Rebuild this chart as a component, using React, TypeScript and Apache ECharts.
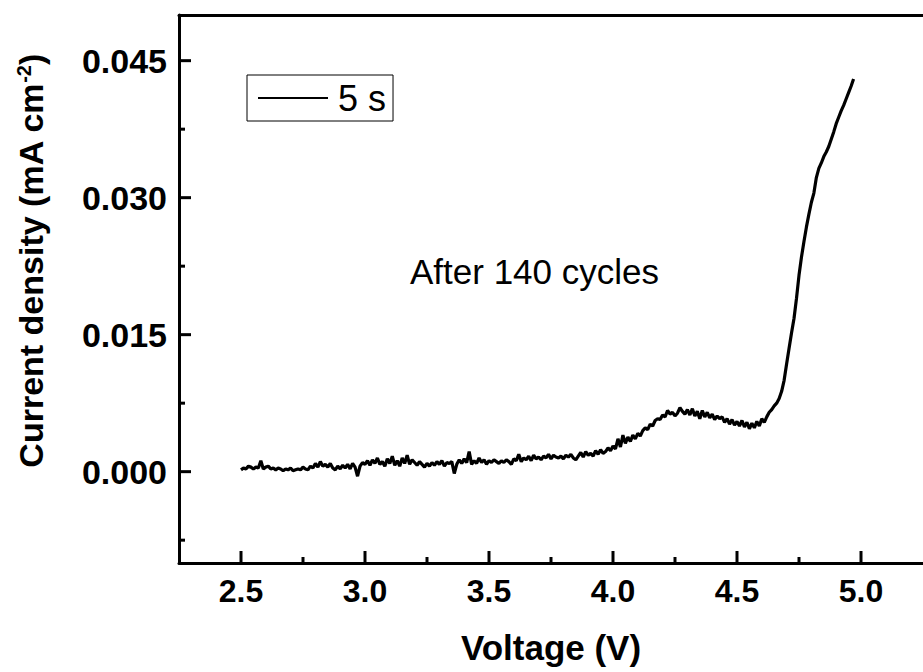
import React, { useEffect, useRef } from "react";
import * as echarts from "echarts";

// Voltage (V)
const voltage = [
  2.5, 2.51, 2.52, 2.53, 2.54, 2.55, 2.56, 2.57, 2.58, 2.59,
  2.6, 2.61, 2.62, 2.63, 2.64, 2.65, 2.66, 2.67, 2.68, 2.69,
  2.7, 2.71, 2.72, 2.73, 2.74, 2.75, 2.76, 2.77, 2.78, 2.79,
  2.8, 2.81, 2.82, 2.83, 2.84, 2.85, 2.86, 2.87, 2.88, 2.89,
  2.9, 2.91, 2.92, 2.93, 2.94, 2.95, 2.96, 2.97, 2.98, 2.99,
  3.0, 3.01, 3.02, 3.03, 3.04, 3.05, 3.06, 3.07, 3.08, 3.09,
  3.1, 3.11, 3.12, 3.13, 3.14, 3.15, 3.16, 3.17, 3.18, 3.19,
  3.2, 3.21, 3.22, 3.23, 3.24, 3.25, 3.26, 3.27, 3.28, 3.29,
  3.3, 3.31, 3.32, 3.33, 3.34, 3.35, 3.36, 3.37, 3.38, 3.39,
  3.4, 3.41, 3.42, 3.43, 3.44, 3.45, 3.46, 3.47, 3.48, 3.49,
  3.5, 3.51, 3.52, 3.53, 3.54, 3.55, 3.56, 3.57, 3.58, 3.59,
  3.6, 3.61, 3.62, 3.63, 3.64, 3.65, 3.66, 3.67, 3.68, 3.69,
  3.7, 3.71, 3.72, 3.73, 3.74, 3.75, 3.76, 3.77, 3.78, 3.79,
  3.8, 3.81, 3.82, 3.83, 3.84, 3.85, 3.86, 3.87, 3.88, 3.89,
  3.9, 3.91, 3.92, 3.93, 3.94, 3.95, 3.96, 3.97, 3.98, 3.99,
  4.0, 4.01, 4.02, 4.03, 4.04, 4.05, 4.06, 4.07, 4.08, 4.09,
  4.1, 4.11, 4.12, 4.13, 4.14, 4.15, 4.16, 4.17, 4.18, 4.19,
  4.2, 4.21, 4.22, 4.23, 4.24, 4.25, 4.26, 4.27, 4.28, 4.29,
  4.3, 4.31, 4.32, 4.33, 4.34, 4.35, 4.36, 4.37, 4.38, 4.39,
  4.4, 4.41, 4.42, 4.43, 4.44, 4.45, 4.46, 4.47, 4.48, 4.49,
  4.5, 4.51, 4.52, 4.53, 4.54, 4.55, 4.56, 4.57, 4.58, 4.59,
  4.6, 4.61, 4.62, 4.63, 4.64, 4.65, 4.66, 4.67, 4.68, 4.69,
  4.7, 4.71, 4.72, 4.73, 4.74, 4.75, 4.76, 4.77, 4.78, 4.79,
  4.8, 4.81, 4.82, 4.83, 4.84, 4.85, 4.86, 4.87, 4.88, 4.89,
  4.9, 4.91, 4.92, 4.93, 4.94, 4.95, 4.96, 4.97,
];

// Current density (mA cm-2)
const current = [
  0.0002, 0.0004, 0.0003, 0.0006, 0.0005, 0.0003, 0.0005, 0.0004, 0.0012, 0.0003,
  0.0005, 0.0006, 0.0003, 0.0004, 0.0002, 0.0004, 0.0003, 0.0001, 0.0003, 0.0002,
  0.0004, 0.0001, 0.0002, 0.0003, 0.0002, 0.0005, 0.0003, 0.0002, 0.0006, 0.0004,
  0.0009, 0.0005, 0.0011, 0.0006, 0.0008, 0.0005, 0.0009, 0.0004, 0.0002, 0.0006,
  0.0003, 0.0007, 0.0004, 0.0008, 0.0003, 0.0009, 0.0005, -0.0005, 0.0006, 0.001,
  0.0008, 0.0012, 0.0007, 0.0013, 0.0009, 0.0015, 0.0008, 0.0011, 0.0006, 0.0014,
  0.0009, 0.0017, 0.0007, 0.0012, 0.0006, 0.0015, 0.0009, 0.0018, 0.0008, 0.0013,
  0.001, 0.0007, 0.0011, 0.0008, 0.0005, 0.0009, 0.0006, 0.001, 0.0007, 0.0011,
  0.0008, 0.0012, 0.0006, 0.001, 0.0009, 0.0011, -0.0002, 0.0008, 0.0013, 0.0009,
  0.0014, 0.001, 0.0022, 0.0008, 0.0012, 0.0009, 0.0015, 0.001, 0.0013, 0.0008,
  0.0012, 0.001, 0.0013, 0.0011, 0.0009, 0.0012, 0.001, 0.0013, 0.0011, 0.0008,
  0.0014, 0.0012, 0.0019, 0.0011, 0.0015, 0.0013, 0.0017, 0.0012, 0.0018, 0.0014,
  0.0016, 0.0013, 0.0017, 0.0015, 0.0019, 0.0014, 0.0018, 0.0016, 0.0015, 0.0017,
  0.0014, 0.0018, 0.0016, 0.0019, 0.0015, 0.0013, 0.0017, 0.0021, 0.0016, 0.0022,
  0.0018, 0.002, 0.0017, 0.0023, 0.0019, 0.0024, 0.002, 0.0022, 0.0026, 0.0023,
  0.0028, 0.0025, 0.0036, 0.0027, 0.004, 0.0031, 0.0038, 0.0033, 0.004, 0.0036,
  0.0042, 0.0039, 0.0045, 0.0048, 0.0046, 0.0052, 0.005, 0.0056, 0.0058, 0.0057,
  0.0062, 0.006, 0.0067, 0.0063, 0.0065, 0.0061, 0.0064, 0.007, 0.0066, 0.0063,
  0.0068, 0.0062, 0.0069, 0.0061, 0.0066, 0.0058, 0.0067, 0.006, 0.0065, 0.0059,
  0.0063, 0.0057, 0.0061, 0.0058, 0.006, 0.0054, 0.0058, 0.0052, 0.0057, 0.0051,
  0.0055, 0.005, 0.0056, 0.0049, 0.0054, 0.0047, 0.0053, 0.0048, 0.0055, 0.005,
  0.0058, 0.0054, 0.006, 0.0065, 0.0068, 0.0072, 0.0075, 0.008, 0.0088, 0.01,
  0.0118, 0.0135, 0.0152, 0.0168, 0.019, 0.0215, 0.0235, 0.0252, 0.0268, 0.0282,
  0.0295, 0.0305, 0.0322, 0.0332, 0.0338, 0.0345, 0.035, 0.0356, 0.0364, 0.0372,
  0.0381, 0.0388, 0.0395, 0.0401, 0.0408, 0.0415, 0.0422, 0.043,
];

const seriesName = "5 s";
const annotation = "After 140 cycles";
const xTitle = "Voltage (V)";
const yTitle = "Current density (mA cm{sup|-2})";
const xMajorTicks = [2.5, 3.0, 3.5, 4.0, 4.5, 5.0];
const xMinorTicks = [2.75, 3.25, 3.75, 4.25, 4.75];
const yMajorTicks = [0, 0.015, 0.03, 0.045];
const yMinorTicks = [-0.0075, 0.0075, 0.0225, 0.0375];

const FONT = "'Liberation Sans', Arial, sans-serif";
const X_MIN = 2.25;
const X_MAX = 5.25;
const Y_MIN = -0.01;
const Y_MAX = 0.05;

export default function App() {
  const ref = useRef<HTMLDivElement>(null);

  useEffect(() => {
    if (!ref.current) return;
    const chart = echarts.init(ref.current, undefined, { renderer: "svg" });
    const axisLine = { show: true, onZero: false, lineStyle: { color: "#000", width: 3 } };
    const noLabel = { show: false };
    const noSplit = { show: false };
    const noTick = { show: false };

    // Inward axis ticks drawn through the axes' own scales (api.coord)
    const tickSeries = (dim: "x" | "y", values: number[], length: number) => ({
      type: "custom",
      xAxisIndex: 0,
      yAxisIndex: 0,
      silent: true,
      clip: false,
      z: 10,
      data: values.map((v) => (dim === "x" ? [v, Y_MIN] : [X_MIN, v])),
      renderItem: (_params: any, api: any) => {
        const p = api.coord([api.value(0), api.value(1)]);
        const shape =
          dim === "x"
            ? { x1: p[0], y1: p[1], x2: p[0], y2: p[1] - length }
            : { x1: p[0], y1: p[1], x2: p[0] + length, y2: p[1] };
        return { type: "line", shape, style: { stroke: "#000", lineWidth: 3 } };
      },
    });

    chart.setOption({
      animation: false,
      backgroundColor: "#fff",
      grid: { left: 179, top: 15, right: -9, bottom: 109, containLabel: false },
      legend: {
        data: [seriesName],
        left: 247,
        top: 75,
        icon: "rect",
        itemWidth: 70,
        itemHeight: 2,
        selectedMode: false,
        borderColor: "#000",
        borderWidth: 1,
        borderRadius: 0,
        padding: [5, 7, 5, 11],
        textStyle: { fontSize: 36, color: "#000", fontFamily: FONT, padding: [0, 0, 0, 5] },
      },
      xAxis: [
        {
          type: "value",
          min: X_MIN,
          max: X_MAX,
          position: "bottom",
          axisLine,
          axisTick: noTick,
          axisLabel: {
            show: true,
            customValues: xMajorTicks,
            formatter: (v: number) => v.toFixed(1),
            margin: 12,
            fontSize: 32,
            fontWeight: "bold",
            fontFamily: FONT,
            color: "#000",
          },
          splitLine: noSplit,
          name: xTitle,
          nameLocation: "middle",
          nameGap: 67,
          nameTextStyle: { fontSize: 35, fontWeight: "bold", fontFamily: FONT, color: "#000" },
        },
        {
          type: "value",
          min: X_MIN,
          max: X_MAX,
          position: "top",
          axisLine,
          axisTick: noTick,
          axisLabel: noLabel,
          splitLine: noSplit,
        },
      ],
      yAxis: [
        {
          type: "value",
          min: Y_MIN,
          max: Y_MAX,
          position: "left",
          axisLine,
          axisTick: noTick,
          axisLabel: {
            show: true,
            customValues: yMajorTicks,
            formatter: (v: number) => v.toFixed(3),
            margin: 12,
            fontSize: 34,
            fontWeight: "bold",
            fontFamily: FONT,
            color: "#000",
          },
          splitLine: noSplit,
        },
      ],
      graphic: [
        {
          type: "text",
          x: 410,
          y: 271,
          style: {
            text: annotation,
            fill: "#000",
            font: `35px ${FONT}`,
            align: "left",
            verticalAlign: "middle",
          },
        },
        {
          type: "text",
          x: 31,
          y: 261,
          rotation: Math.PI / 2,
          style: {
            text: yTitle,
            fill: "#000",
            fontSize: 34,
            fontWeight: "bold",
            fontFamily: FONT,
            align: "center",
            verticalAlign: "middle",
            rich: {
              sup: {
                fontSize: 20,
                fontWeight: "bold",
                fontFamily: FONT,
                fill: "#000",
                verticalAlign: "top",
                lineHeight: 34,
              },
            },
          },
        },
      ],
      series: [
        {
          name: seriesName,
          type: "line",
          xAxisIndex: 0,
          yAxisIndex: 0,
          showSymbol: false,
          symbol: "none",
          data: voltage.map((v, i) => [v, current[i]]),
          lineStyle: { color: "#000", width: 3.2 },
          itemStyle: { color: "#000" },
          z: 5,
        },
        tickSeries("x", xMajorTicks, 12),
        tickSeries("x", xMinorTicks, 6),
        tickSeries("y", yMajorTicks, 12),
        tickSeries("y", yMinorTicks, 6),
      ],
    });

    return () => chart.dispose();
  }, []);

  return (
    <div
      ref={ref}
      style={{ position: "fixed", left: 0, top: 0, width: 923, height: 672, background: "#fff" }}
    />
  );
}
